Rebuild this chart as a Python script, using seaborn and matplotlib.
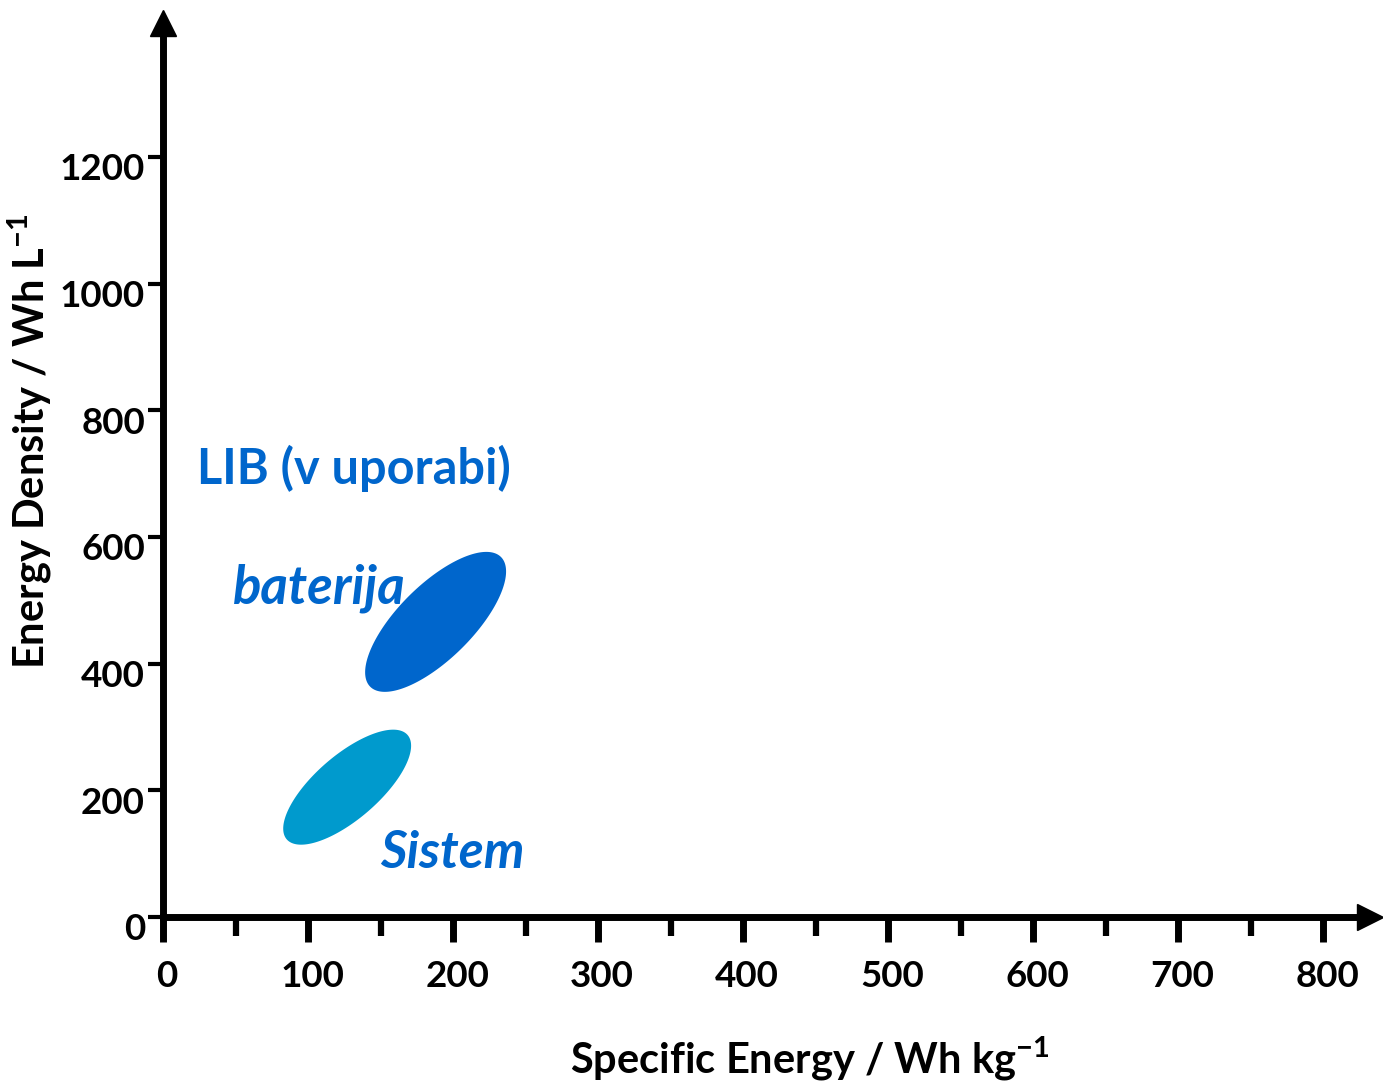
import matplotlib
matplotlib.use("Agg")
import matplotlib.pyplot as plt
import matplotlib.transforms as mtransforms
import numpy as np
import seaborn as sns

# axis ticks
x_major = [0, 100, 200, 300, 400, 500, 600, 700, 800]
x_minor = [50, 150, 250, 350, 450, 550, 650, 750]
y_major = [0, 200, 400, 600, 800, 1000, 1200]

# LIB regions: centre, half-range and tilt (correlation) in data units
region_names = ['baterija', 'Sistem']
region_cx = [188, 127]
region_cy = [466, 205]
region_hx = [48.6, 44.1]
region_hy = [110.5, 90.8]
region_rho = [0.72, 0.72]
region_colors = ['#0066CC', '#009ACD']

text_blue = '#0066CC'

sns.set_theme(style="white")
plt.rcParams['font.family'] = ['Lato', 'DejaVu Sans']
plt.rcParams['font.weight'] = 'bold'
plt.rcParams['text.color'] = 'black'
plt.rcParams['axes.labelcolor'] = 'black'
plt.rcParams['axes.unicode_minus'] = False

fig = plt.figure(figsize=(13.83, 10.81), dpi=100)
ax = fig.add_axes([163 / 1383, 164 / 1081, (1370 - 163) / 1383, (1058 - 164) / 1081])

t = np.linspace(0, 2 * np.pi, 300)
for cx, cy, hx, hy, rho, col in zip(region_cx, region_cy, region_hx, region_hy,
                                     region_rho, region_colors):
    phi = np.arcsin(rho)
    ax.fill(cx + hx * np.cos(t), cy + hy * np.sin(t + phi), color=col, lw=0)

ax.set_xlim(0, 832.4)
ax.set_ylim(0, 1411.6)
sns.despine(ax=ax)
for s in ['left', 'bottom']:
    ax.spines[s].set_linewidth(5)
    ax.spines[s].set_color('black')

# arrow heads
ax.plot(1, 0, marker='>', ms=19, color='black', transform=ax.get_yaxis_transform(), clip_on=False)
ax.plot(0, 1, marker='^', ms=19, color='black', transform=ax.get_xaxis_transform(), clip_on=False)

ax.set_xticks(x_major)
ax.set_xticks(x_minor, minor=True)
ax.set_yticks(y_major)
ax.tick_params(axis='x', which='major', direction='out', length=18, width=5,
               pad=13, labelsize=26.5, colors='black', bottom=True)
ax.tick_params(axis='x', which='minor', direction='out', length=14, width=4.5,
               bottom=True, colors='black')
ax.tick_params(axis='y', which='major', direction='out', length=11, width=3,
               pad=2, labelsize=26.5, colors='black', left=True)

for lab in ax.get_xticklabels():
    lab.set_transform(lab.get_transform() + mtransforms.ScaledTranslation(3 / 72, 0, fig.dpi_scale_trans))
for lab in ax.get_yticklabels():
    lab.set_transform(lab.get_transform() + mtransforms.ScaledTranslation(0, -7 / 72, fig.dpi_scale_trans))

ax.set_xlabel(r'Specific Energy / Wh kg$^{\mathregular{-1}}$', fontsize=30, fontweight='bold')
ax.xaxis.set_label_coords((810 - 163) / 1207, (917 - 1034) / 895)
ax.set_ylabel(r'Energy Density / Wh L$^{\mathregular{-1}}$', fontsize=30, fontweight='bold')
ax.yaxis.set_label_coords((54 - 163) / 1207, (917 - 441) / 895)

ax.text(23.4, 709, 'LIB (v uporabi)', color=text_blue, fontsize=35, fontweight='bold',
        ha='left', va='center')
ax.text(48.3, 519, region_names[0], color=text_blue, fontsize=38, fontweight='bold',
        style='italic', ha='left', va='center')
ax.text(149.7, 101, region_names[1], color=text_blue, fontsize=37, fontweight='bold',
        style='italic', ha='left', va='center')

fig.savefig('out.png', dpi=100)
